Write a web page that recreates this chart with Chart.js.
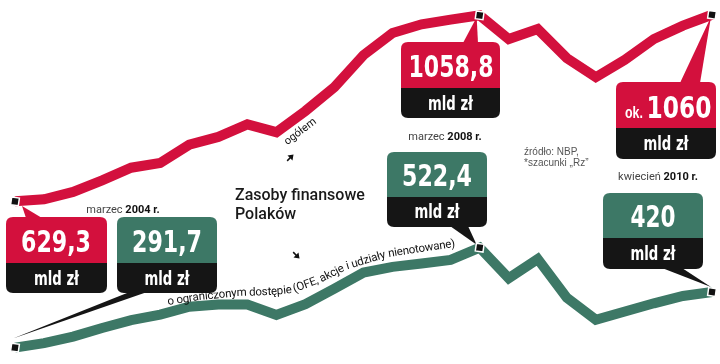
<!DOCTYPE html>
<html>
<head>
<meta charset="utf-8">
<script src="https://cdn.jsdelivr.net/npm/chart.js@4.4.1/dist/chart.umd.min.js"></script>
<style>
  body { margin: 0; background: #fff; }
  #wrap { width: 720px; height: 364px; position: relative; }
</style>
</head>
<body>
<div id="wrap"><canvas id="chart"></canvas></div>
<script>
// kwartały od marca 2004 do kwietnia 2010
const quarters = [
    '03.2004', '06.2004', '09.2004', '12.2004',
    '03.2005', '06.2005', '09.2005', '12.2005',
    '03.2006', '06.2006', '09.2006', '12.2006',
    '03.2007', '06.2007', '09.2007', '12.2007',
    '03.2008', '06.2008', '09.2008', '12.2008',
    '03.2009', '06.2009', '09.2009', '12.2009',
    '04.2010'
];

// zasoby ogółem, mld zł
const totalAssets = [
    629.3, 634, 651, 678, 707, 718, 760, 778, 807, 789, 838, 893, 967,
    1018, 1038, 1049, 1058.8, 1004, 1027, 960, 916, 956, 1004, 1035, 1060
];

// o ograniczonym dostępie, mld zł
const restrictedAssets = [
    291.7, 302, 317, 337, 355, 368, 386, 391, 391, 367, 392, 428, 465,
    478, 486, 494, 522.4, 452, 496, 407, 356, 375, 394, 411, 420
];

// punkty z opisem (indeksy)
const markedPoints = [0, 16, 24];

const RED = '#d3103d';
const GREEN = '#3d7866';
const BOX_BLACK = '#151515';

function pointRadii() {
    return quarters.map((_, i) => markedPoints.includes(i) ? 5.5 : 0);
}

function roundRect(ctx, x, y, w, h, r) {
    ctx.beginPath();
    ctx.moveTo(x + r, y);
    ctx.lineTo(x + w - r, y);
    ctx.quadraticCurveTo(x + w, y, x + w, y + r);
    ctx.lineTo(x + w, y + h - r);
    ctx.quadraticCurveTo(x + w, y + h, x + w - r, y + h);
    ctx.lineTo(x + r, y + h);
    ctx.quadraticCurveTo(x, y + h, x, y + h - r);
    ctx.lineTo(x, y + r);
    ctx.quadraticCurveTo(x, y, x + r, y);
    ctx.closePath();
}

// tekst dopasowany do szerokości (skalowanie w poziomie)
function fitText(ctx, text, cx, baseline, font, width, color) {
    ctx.save();
    ctx.font = font;
    ctx.fillStyle = color;
    ctx.textAlign = 'center';
    ctx.textBaseline = 'alphabetic';
    const w = ctx.measureText(text).width;
    ctx.translate(cx, baseline);
    ctx.scale(width / w, 1);
    ctx.fillText(text, 0, 0);
    ctx.restore();
}

// dymek z wartością
function drawCallout(ctx, o) {
    const { x, y, w, hTop, hBottom, color } = o;
    // ogonek
    ctx.beginPath();
    ctx.moveTo(o.tail[0], o.tail[1]);
    ctx.lineTo(o.tail[2], o.tail[3]);
    ctx.lineTo(o.tip.x, o.tip.y);
    ctx.closePath();
    ctx.fillStyle = o.tailColor;
    ctx.fill();

    ctx.save();
    roundRect(ctx, x, y, w, hTop + hBottom, 7);
    ctx.clip();
    ctx.fillStyle = color;
    ctx.fillRect(x, y, w, hTop);
    ctx.fillStyle = BOX_BLACK;
    ctx.fillRect(x, y + hTop, w, hBottom);
    ctx.restore();

    const bigFont = 'bold 31px "Liberation Sans Narrow", "DejaVu Sans Condensed", sans-serif';
    const smallFont = 'bold 19px "Liberation Sans Narrow", "DejaVu Sans Condensed", sans-serif';
    if (o.prefix) {
        fitText(ctx, o.prefix, o.prefixX, o.valueBase, 'bold 17px "Liberation Sans Narrow", sans-serif', o.prefixW, '#fff');
    }
    fitText(ctx, o.value, o.valueX, o.valueBase, bigFont, o.valueW, '#fff');
    fitText(ctx, 'mld zł', x + w / 2, o.unitBase, smallFont, 45, '#fff');
}

function dateLabel(ctx, month, year, cx, baseline) {
    ctx.save();
    ctx.textBaseline = 'alphabetic';
    ctx.font = '11px Roboto, sans-serif';
    const m = month + ' ';
    const w1 = ctx.measureText(m).width;
    ctx.font = 'bold 11px Roboto, sans-serif';
    const w2 = ctx.measureText(year).width;
    let x = cx - (w1 + w2) / 2;
    ctx.textAlign = 'left';
    ctx.font = '11px Roboto, sans-serif';
    ctx.fillStyle = '#444';
    ctx.fillText(m, x, baseline);
    ctx.font = 'bold 11px Roboto, sans-serif';
    ctx.fillStyle = '#111';
    ctx.fillText(year, x + w1, baseline);
    ctx.restore();
}

function arrow(ctx, x, y, angle) {
    ctx.save();
    ctx.translate(x, y);
    ctx.rotate(angle);
    ctx.fillStyle = '#111';
    ctx.strokeStyle = '#111';
    ctx.lineWidth = 1.6;
    ctx.beginPath();
    ctx.moveTo(-4, 0);
    ctx.lineTo(1, 0);
    ctx.stroke();
    ctx.beginPath();
    ctx.moveTo(5, 0);
    ctx.lineTo(0, -3.5);
    ctx.lineTo(0, 3.5);
    ctx.closePath();
    ctx.fill();
    ctx.restore();
}

// napis wzdłuż łamanej
function textOnPath(ctx, text, pts, font) {
    ctx.save();
    ctx.font = font;
    ctx.fillStyle = '#111';
    ctx.textAlign = 'center';
    ctx.textBaseline = 'alphabetic';
    const segs = [];
    let total = 0;
    for (let i = 1; i < pts.length; i++) {
        const dx = pts[i][0] - pts[i - 1][0];
        const dy = pts[i][1] - pts[i - 1][1];
        const len = Math.hypot(dx, dy);
        segs.push({ x: pts[i - 1][0], y: pts[i - 1][1], dx, dy, len, start: total });
        total += len;
    }
    const tw = ctx.measureText(text).width;
    const k = total / tw;
    let s = 0;
    for (const ch of text) {
        const cw = ctx.measureText(ch).width * k;
        const mid = s + cw / 2;
        let seg = segs[segs.length - 1];
        for (const sg of segs) {
            if (mid <= sg.start + sg.len) { seg = sg; break; }
        }
        const t = (mid - seg.start) / seg.len;
        ctx.save();
        ctx.translate(seg.x + seg.dx * t, seg.y + seg.dy * t);
        ctx.rotate(Math.atan2(seg.dy, seg.dx));
        ctx.fillText(ch, 0, 0);
        ctx.restore();
        s += cw;
    }
    ctx.restore();
}

const infoPlugin = {
    id: 'info',
    beforeDatasetsDraw(chart) {
        const ctx = chart.ctx;
        const red = chart.getDatasetMeta(0).data;
        const green = chart.getDatasetMeta(1).data;

        drawCallout(ctx, {
            x: 6, y: 217, w: 101, hTop: 46, hBottom: 30, color: RED,
            tail: [26, 218, 42, 218], tip: { x: 22, y: 206 }, tailColor: RED,
            value: '629,3', valueX: 56, valueW: 70, valueBase: 252, unitBase: 285
        });
        drawCallout(ctx, {
            x: 117, y: 217, w: 100, hTop: 46, hBottom: 30, color: GREEN,
            tail: [132, 291, 150, 291], tip: { x: green[0].x - 2, y: green[0].y - 9 }, tailColor: BOX_BLACK,
            value: '291,7', valueX: 167, valueW: 70, valueBase: 252, unitBase: 285
        });
        drawCallout(ctx, {
            x: 401, y: 42, w: 99, hTop: 46, hBottom: 30, color: RED,
            tail: [463, 43, 478, 43], tip: { x: red[16].x - 3, y: red[16].y + 2 }, tailColor: RED,
            value: '1058,8', valueX: 451, valueW: 85, valueBase: 77, unitBase: 110
        });
        drawCallout(ctx, {
            x: 387, y: 152, w: 100, hTop: 45, hBottom: 30, color: GREEN,
            tail: [450, 226, 468, 226], tip: { x: green[16].x - 3, y: green[16].y - 3 }, tailColor: BOX_BLACK,
            value: '522,4', valueX: 437, valueW: 70, valueBase: 186, unitBase: 218
        });
        drawCallout(ctx, {
            x: 616, y: 82, w: 100, hTop: 46, hBottom: 31, color: RED,
            tail: [680, 83, 700, 83], tip: { x: red[24].x - 1, y: red[24].y + 2 }, tailColor: RED,
            prefix: 'ok.', prefixX: 634, prefixW: 18,
            value: '1060', valueX: 679, valueW: 65, valueBase: 118, unitBase: 150
        });
        drawCallout(ctx, {
            x: 603, y: 193, w: 100, hTop: 45, hBottom: 31, color: GREEN,
            tail: [662, 268, 682, 268], tip: { x: green[24].x - 1, y: green[24].y - 5 }, tailColor: BOX_BLACK,
            value: '420', valueX: 653, valueW: 45, valueBase: 227, unitBase: 260
        });

        dateLabel(ctx, 'marzec', '2004 r.', 123, 213);
        dateLabel(ctx, 'marzec', '2008 r.', 445, 140);
        dateLabel(ctx, 'kwiecień', '2010 r.', 658, 180);

        ctx.save();
        ctx.fillStyle = '#1a1a1a';
        ctx.font = '500 16px Roboto, sans-serif';
        ctx.textAlign = 'left';
        ctx.fillText('Zasoby finansowe', 235, 200);
        ctx.fillText('Polaków', 235, 219);

        ctx.fillStyle = '#555';
        ctx.font = '10px "Liberation Sans Narrow", sans-serif';
        ctx.fillText('źródło: NBP,', 524, 155);
        ctx.fillText('*szacunki „Rz”', 524, 166);
        ctx.restore();

        arrow(ctx, 290, 158, -45 * Math.PI / 180);
        arrow(ctx, 296, 255, 45 * Math.PI / 180);
    },
    afterDatasetsDraw(chart) {
        const ctx = chart.ctx;
        ctx.save();
        ctx.translate(302, 134);
        ctx.rotate(-37 * Math.PI / 180);
        ctx.fillStyle = '#111';
        ctx.font = '11px Roboto, sans-serif';
        ctx.textAlign = 'center';
        ctx.fillText('ogółem', 0, 0);
        ctx.restore();

        textOnPath(ctx, 'o ograniczonym dostępie (OFE, akcje i udziały nienotowane)', [
            [168, 305], [200, 300], [240, 296], [270, 295], [293, 293],
            [320, 283], [348, 269], [388, 257], [420, 252], [455, 247]
        ], '11.5px Roboto, sans-serif');
    }
};

const ctx = document.getElementById('chart');
new Chart(ctx, {
    type: 'line',
    data: {
        labels: quarters,
        datasets: [{
            label: 'ogółem',
            data: totalAssets,
            borderColor: RED,
            borderWidth: 10,
            borderJoinStyle: 'miter',
            borderCapStyle: 'butt',
            tension: 0,
            pointRadius: pointRadii(),
            pointStyle: 'rect',
            pointRotation: 8,
            pointBackgroundColor: '#111',
            pointBorderColor: '#fff',
            pointBorderWidth: 1.5,
            clip: false
        }, {
            label: 'o ograniczonym dostępie',
            data: restrictedAssets,
            borderColor: GREEN,
            borderWidth: 10,
            borderJoinStyle: 'miter',
            borderCapStyle: 'butt',
            tension: 0,
            pointRadius: pointRadii(),
            pointStyle: 'rect',
            pointRotation: 8,
            pointBackgroundColor: '#111',
            pointBorderColor: '#fff',
            pointBorderWidth: 1.5,
            clip: false
        }]
    },
    options: {
        responsive: true,
        maintainAspectRatio: false,
        animation: false,
        layout: {
            padding: { left: 15, right: 8, top: 0, bottom: 0 }
        },
        scales: {
            x: { display: false, offset: false },
            y: { display: false, min: 270, max: 1078 }
        },
        plugins: {
            legend: { display: false },
            tooltip: { enabled: false }
        },
        events: []
    },
    plugins: [infoPlugin]
});
</script>
</body>
</html>
